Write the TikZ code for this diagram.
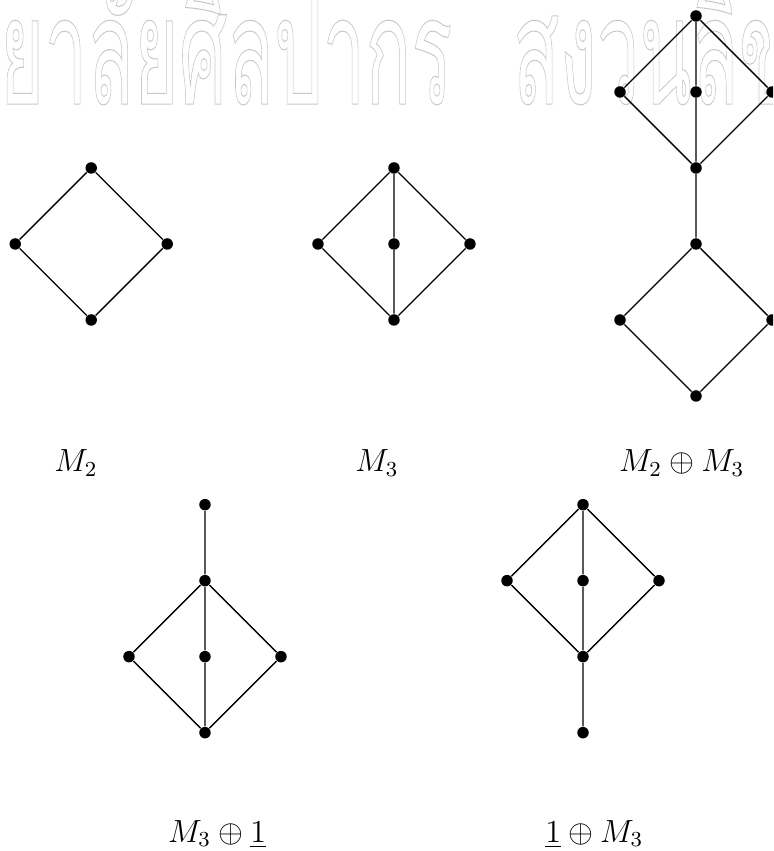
\documentclass[tikz,border=0pt]{standalone}
\usepackage{fontspec}
\usepackage{amsmath}
\usepackage{xcolor}
\usetikzlibrary{positioning}
\newfontfamily\thaifont[Script=Thai]{Loma}
\definecolor{markgray}{RGB}{200,200,200}
\newcommand{\outlined}[1]{\special{pdf:code 1 Tr}#1\special{pdf:code 0 Tr}}

\begin{document}
\begin{tikzpicture}[
    dot/.style={circle, fill=black, inner sep=0pt, minimum size=4.3pt},
    lbl/.style={anchor=base, font=\large},
    wmark/.style={anchor=base east, text=markgray, font=\thaifont\fontsize{56}{56}\selectfont,
                  inner sep=0pt, xscale=0.51},
    hasse/.style={line width=0.5pt}]
  \useasboundingbox (0,0.013) rectangle (10.171,11.21);
  \clip (0,0.013) rectangle (10.171,11.21);
  % watermark
  \node[wmark] (wm) at (0,9.84)
       {\outlined{มหาวิท\rlap{ยาลัยศิลปากร\hspace{0.9cm} สงวนลิขสิทธิ์}}};
  % M_2
  \node[dot] (a1) at (1.2,9) {};
  \node[dot] (a2) at (0.2,8) {};
  \node[dot] (a3) at (2.2,8) {};
  \node[dot] (a4) at (1.2,7) {};
  \draw[hasse] (a1) -- (a2) -- (a4) -- (a3) -- (a1);
  \node[lbl] (la) at (1.0,5.0) {$M_2$};
  % M_3
  \node[dot] (b1) at (5.184,9) {};
  \node[dot] (b2) at (4.184,8) {};
  \node[dot] (b3) at (5.184,8) {};
  \node[dot] (b4) at (6.184,8) {};
  \node[dot] (b5) at (5.184,7) {};
  \draw[hasse] (b1) -- (b2) -- (b5) -- (b4) -- (b1) -- (b3) -- (b5);
  \node[lbl] (lb) at (4.96,5.0) {$M_3$};
  % M_2 + M_3
  \node[dot] (c1) at (9.158,11) {};
  \node[dot] (c2) at (8.158,10) {};
  \node[dot] (c3) at (9.158,10) {};
  \node[dot] (c4) at (10.158,10) {};
  \node[dot] (c5) at (9.158,9) {};
  \node[dot] (c6) at (9.158,8) {};
  \node[dot] (c7) at (8.158,7) {};
  \node[dot] (c8) at (10.158,7) {};
  \node[dot] (c9) at (9.158,6) {};
  \draw[hasse] (c1) -- (c2) -- (c5) -- (c4) -- (c1) -- (c3) -- (c5) -- (c6);
  \draw[hasse] (c6) -- (c7) -- (c9) -- (c8) -- (c6);
  \node[lbl] (lc) at (8.97,5.0) {$M_2\oplus M_3$};
  % M_3 + 1
  \node[dot] (d1) at (2.697,4.57) {};
  \node[dot] (d2) at (2.697,3.57) {};
  \node[dot] (d3) at (1.697,2.57) {};
  \node[dot] (d4) at (2.697,2.57) {};
  \node[dot] (d5) at (3.697,2.57) {};
  \node[dot] (d6) at (2.697,1.57) {};
  \draw[hasse] (d1) -- (d2) -- (d3) -- (d6) -- (d5) -- (d2) -- (d4) -- (d6);
  \node[lbl] (ld) at (2.855,0.13) {$M_3\oplus\underline{1}$};
  % 1 + M_3
  \node[dot] (e1) at (7.671,4.57) {};
  \node[dot] (e2) at (6.671,3.57) {};
  \node[dot] (e3) at (7.671,3.57) {};
  \node[dot] (e4) at (8.671,3.57) {};
  \node[dot] (e5) at (7.671,2.57) {};
  \node[dot] (e6) at (7.671,1.57) {};
  \draw[hasse] (e1) -- (e2) -- (e5) -- (e4) -- (e1) -- (e3) -- (e5) -- (e6);
  \node[lbl] (le) at (7.82,0.13) {$\underline{1}\oplus M_3$};
\end{tikzpicture}
\end{document}
